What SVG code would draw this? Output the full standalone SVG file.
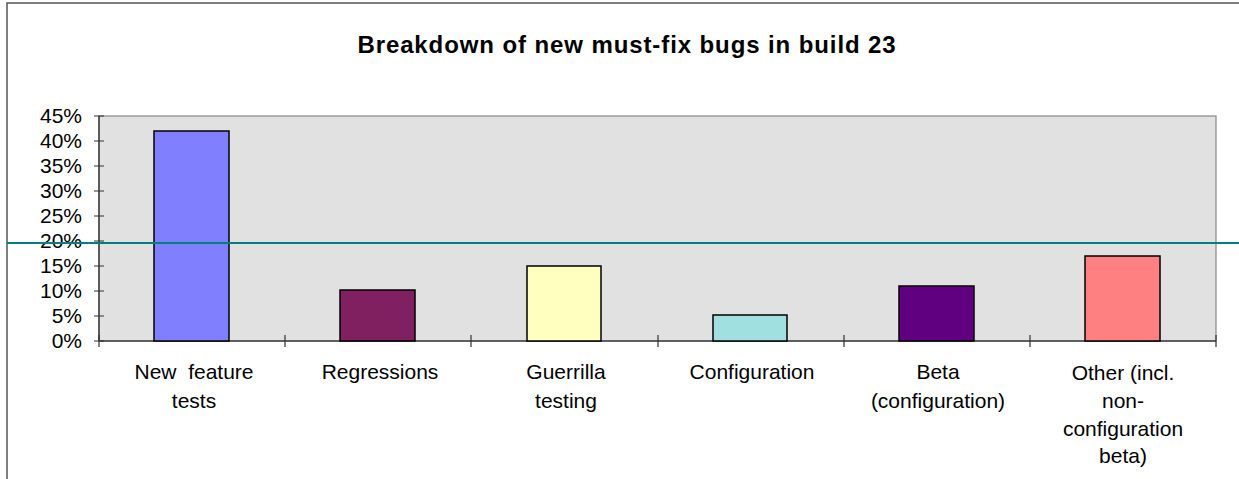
<svg xmlns="http://www.w3.org/2000/svg" width="1239" height="479" viewBox="0 0 1239 479">
<style>
text{font-family:"Liberation Sans",Arial,sans-serif;fill:#000}
.yl{font-size:21px;text-anchor:end}
.cl{font-size:21px;text-anchor:middle}
.bar{stroke:#000;stroke-width:1.5}
.tick{stroke:#333;stroke-width:1.2}
</style>
<rect x="0" y="0" width="1239" height="479" fill="#fff"/>
<rect x="7" y="3" width="1400" height="600" fill="#fff" stroke="#555" stroke-width="1.5"/>
<text x="627" y="53" style="font-size:24px;font-weight:bold;text-anchor:middle;letter-spacing:0.9px">Breakdown of new must-fix bugs in build 23</text>
<g id="plot">
<rect x="99" y="116" width="1117" height="225" fill="#E1E1E1" stroke="#888" stroke-width="1.2"/>
<line x1="99" y1="116" x2="99" y2="341" stroke="#222" stroke-width="1.2"/>
<line x1="99" y1="341" x2="1216" y2="341" stroke="#444" stroke-width="1.5"/>
</g>
<g id="y-axis">
<path class="tick" d="M94 116H104M94 141H104M94 166H104M94 191H104M94 216H104M94 241H104M94 266H104M94 291H104M94 316H104M94 341H104"/>
<text class="yl" x="82" y="123">45%</text>
<text class="yl" x="82" y="148">40%</text>
<text class="yl" x="82" y="173">35%</text>
<text class="yl" x="82" y="198">30%</text>
<text class="yl" x="82" y="223">25%</text>
<text class="yl" x="82" y="248">20%</text>
<text class="yl" x="82" y="273">15%</text>
<text class="yl" x="82" y="298">10%</text>
<text class="yl" x="82" y="323">5%</text>
<text class="yl" x="82" y="348">0%</text>
</g>
<g id="x-axis">
<path class="tick" d="M99 335V347M285 335V347M471 335V347M658 335V347M844 335V347M1030 335V347M1216 335V347"/>
</g>
<g id="bar-new-feature">
<rect class="bar" x="154" y="131" width="75" height="210" fill="#8080FF"/>
<text class="cl" x="194" y="379" xml:space="preserve">New  feature</text>
<text class="cl" x="194" y="408">tests</text>
</g>
<g id="bar-regressions">
<rect class="bar" x="340" y="290" width="75" height="51" fill="#802060"/>
<text class="cl" x="380" y="379">Regressions</text>
</g>
<g id="bar-guerrilla">
<rect class="bar" x="527" y="266" width="74" height="75" fill="#FFFFC0"/>
<text class="cl" x="566" y="379">Guerrilla</text>
<text class="cl" x="566" y="408">testing</text>
</g>
<g id="bar-configuration">
<rect class="bar" x="713" y="315" width="74" height="26" fill="#A0E0E0"/>
<text class="cl" x="752" y="379">Configuration</text>
</g>
<g id="bar-beta">
<rect class="bar" x="899" y="286" width="75" height="55" fill="#600080"/>
<text class="cl" x="938" y="379">Beta</text>
<text class="cl" x="938" y="408">(configuration)</text>
</g>
<g id="bar-other">
<rect class="bar" x="1085" y="256" width="75" height="85" fill="#FF8080"/>
<text class="cl" x="1123" y="380">Other (incl.</text>
<text class="cl" x="1123" y="408">non-</text>
<text class="cl" x="1123" y="436">configuration</text>
<text class="cl" x="1123" y="463">beta)</text>
</g>
<g id="connectors">
<line x1="7" y1="243" x2="1239" y2="243" stroke="#008080" stroke-width="2"/>
</g>
</svg>
